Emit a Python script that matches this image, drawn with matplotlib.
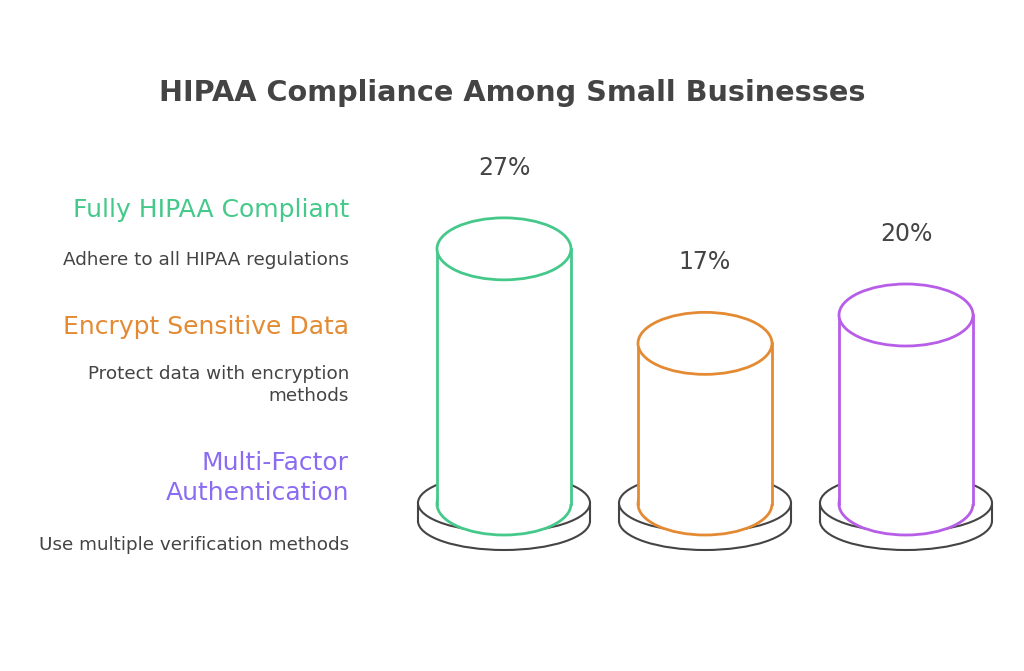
import matplotlib
matplotlib.use("Agg")
import matplotlib.pyplot as plt
from matplotlib.patches import Ellipse, Rectangle

categories = ["Fully HIPAA Compliant", "Encrypt Sensitive Data", "Multi-Factor\nAuthentication"]
descriptions = ["Adhere to all HIPAA regulations", "Protect data with encryption\nmethods", "Use multiple verification methods"]
values = [27, 17, 20]
colors = ["#45C98A", "#E38A33", "#B75DE8"]
label_colors = ["#45C98A", "#E38A33", "#8B6BF2"]

fig = plt.figure(figsize=(10.24, 6.71), dpi=100)
ax = fig.add_axes([0, 0, 1, 1])
ax.set_xlim(0, 1024)
ax.set_ylim(671, 0)
ax.axis("off")

ax.text(512, 93, "HIPAA Compliance Among Small Businesses", ha="center", va="center",
        fontsize=20.7, fontweight="bold", color="#444444")

centers = [504, 705, 906]
scale = 9.45
base_y = 504
w, eh = 134, 62
bw, bh = 172, 58
gray = "#444444"
for cx, v, c in zip(centers, values, colors):
    ax.add_patch(Ellipse((cx, 521), bw, bh, fc="white", ec=gray, lw=1.5, zorder=1))
    ax.add_patch(Rectangle((cx - bw/2, 503), bw, 18, fc="white", ec="none", zorder=1))
    ax.plot([cx - bw/2, cx - bw/2], [503, 521], color=gray, lw=1.5, zorder=1)
    ax.plot([cx + bw/2, cx + bw/2], [503, 521], color=gray, lw=1.5, zorder=1)
    ax.add_patch(Ellipse((cx, 503), bw, bh, fc="white", ec=gray, lw=1.5, zorder=2))
    top = base_y - v * scale
    ax.add_patch(Ellipse((cx, base_y), w, eh, fc="white", ec=c, lw=2, zorder=3))
    ax.add_patch(Rectangle((cx - w/2, top), w, base_y - top, fc="white", ec="none", zorder=4))
    ax.plot([cx - w/2, cx - w/2], [top, base_y], color=c, lw=2, zorder=5)
    ax.plot([cx + w/2, cx + w/2], [top, base_y], color=c, lw=2, zorder=5)
    ax.add_patch(Ellipse((cx, top), w, eh, fc="white", ec=c, lw=2, zorder=6))
    ax.text(cx, top - eh/2 - 50, f"{v}%", ha="center", va="center", fontsize=17, color=gray)

cat_y = [210, 327, 478]
desc_y = [260, 385, 545]
for name, d, cy, dy, lc in zip(categories, descriptions, cat_y, desc_y, label_colors):
    ax.text(349, cy, name, ha="right", va="center", fontsize=18, color=lc, linespacing=1.35)
    ax.text(349, dy, d, ha="right", va="center", fontsize=13.2, color=gray, linespacing=1.3)

fig.savefig("out.png", dpi=100)
